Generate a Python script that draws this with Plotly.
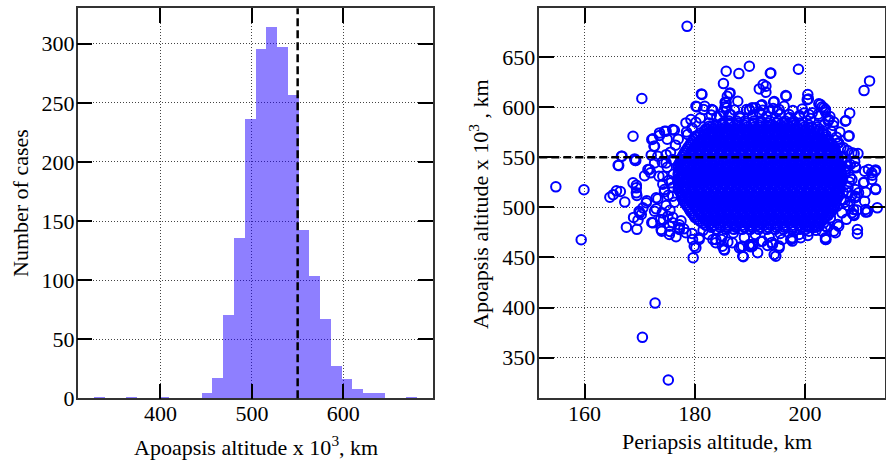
import plotly.graph_objects as go

# ---------------- Histogram data (apoapsis altitude x 10^3 km) ----------------
bin_centers = [332.9, 344.7, 356.4, 368.2, 380.0, 391.8, 403.5, 415.3, 427.1, 438.9,
               450.6, 462.4, 474.2, 486.0, 497.7, 509.5, 521.3, 533.1, 544.8, 556.6,
               568.4, 580.2, 591.9, 603.7, 615.5, 627.3, 639.0, 650.8, 662.6, 674.4]
bin_counts = [1, 0, 0, 1, 0, 0, 1, 0, 0, 0,
              4, 17, 70, 135, 236, 295, 314, 297, 256, 142,
              103, 67, 27, 16, 8, 4, 4, 0, 0, 1]
BIN_WIDTH = 11.77
apo_limit = 550

# ---------------- Scatter data: (periapsis km, apoapsis x10^3 km) ----------------
fringe_points = [
    (178.6, 680.5), (154.8, 520.4), (159.9, 517.5), (159.4, 467.6), (170.4, 608.5),
    (172.8, 404.5), (170.5, 370.3), (175.2, 327.7),
    (168.8, 570.9), (166.8, 551.0), (166.1, 542.0), (169.3, 546.7), (170.9, 531.5),
    (164.6, 510.0), (165.2, 512.6), (165.8, 516.4), (166.5, 515.8), (167.3, 505.2),
    (168.8, 524.4), (169.4, 522.0), (169.4, 519.4), (169.4, 514.4), (169.5, 511.8),
    (167.6, 480.2), (169.5, 478.0), (168.9, 489.9), (170.0, 494.5), (170.6, 499.5),
    (169.9, 496.1), (170.3, 492.8), (169.7, 487.1), (171.3, 506.5), (172.2, 484.9),
    (173.0, 498.5), (172.2, 567.6), (172.6, 561.0), (172.1, 552.0), (173.6, 571.6),
    (174.5, 575.9), (176.3, 576.9), (174.1, 545.0), (173.5, 531.0), (172.0, 534.4),
    (171.8, 537.7), (173.8, 487.9), (174.0, 476.2), (175.4, 481.2), (176.6, 470.6),
    (174.3, 487.5), (173.3, 508.5), (174.8, 501.8), (174.1, 494.5), (175.5, 475.9),
    (177.2, 479.6), (172.4, 568.3), (175.0, 568.0), (172.7, 560.9), (173.6, 574.2),
    (174.8, 575.9), (176.0, 577.5), (171.5, 537.7), (172.7, 544.3), (173.3, 550.9),
    (171.2, 504.5), (173.0, 509.5), (172.7, 496.1), (172.4, 484.5), (173.9, 477.9),
    (175.4, 472.9), (169.2, 546.7), (166.2, 541.6), (166.7, 550.9), (169.1, 548.3),
    (174.8, 544.3), (176.0, 547.6), (174.2, 531.0), (175.7, 524.4), (174.5, 517.7),
    (176.0, 511.1), (175.1, 491.1), (176.0, 484.5), (177.2, 477.9), (178.4, 474.6),
    (178.4, 584.2), (179.3, 587.5), (180.4, 600.2), (181.3, 612.5), (181.8, 600.8),
    (183.3, 596.8), (185.2, 623.4), (185.7, 635.7), (186.3, 613.5), (185.9, 610.7),
    (185.7, 604.2), (185.5, 600.2), (187.8, 605.8), (188.0, 633.4), (189.9, 640.7),
    (189.4, 597.5), (190.4, 599.2), (191.7, 618.1), (192.4, 622.4), (192.9, 614.8),
    (193.7, 633.7), (192.2, 602.2), (194.4, 605.5), (196.6, 610.8), (198.8, 637.7),
    (200.5, 612.5), (200.6, 608.1), (202.5, 603.2), (203.1, 600.2), (203.7, 594.9),
    (201.3, 594.2), (181.2, 613.1), (181.6, 597.5), (183.1, 597.5), (178.7, 572.6),
    (180.2, 570.9), (181.7, 572.6), (182.6, 580.8), (180.2, 584.8), (182.6, 584.2),
    (182.0, 578.2), (180.2, 600.8), (185.5, 604.8), (185.8, 599.2), (189.9, 596.8),
    (191.0, 599.2), (192.0, 601.5), (192.3, 596.8), (192.9, 620.7), (196.5, 611.4),
    (196.2, 600.8), (195.0, 595.8), (200.4, 607.4), (202.8, 602.5), (203.7, 597.5),
    (199.8, 594.1), (193.8, 634.0), (194.3, 604.8), (203.4, 599.2), (186.4, 614.1),
    (184.0, 590.0), (186.5, 592.5), (188.2, 589.0), (190.5, 592.0), (193.0, 590.5),
    (195.5, 593.0), (197.2, 589.5), (199.0, 591.5), (201.0, 588.5), (185.2, 595.0),
    (191.8, 594.5), (197.8, 596.5), (187.2, 597.0), (194.2, 598.5), (199.5, 598.0),
    (204.5, 590.5), (205.2, 585.0), (183.0, 592.0), (181.0, 589.0), (202.4, 592.8),
    (184.5, 590.8), (186.3, 592.5), (188.1, 590.8), (189.9, 597.5), (191.7, 594.2),
    (193.5, 595.8), (195.3, 597.5), (197.1, 592.5), (198.9, 590.8), (200.7, 592.5),
    (202.5, 590.8), (204.3, 587.5),
    (210.7, 616.4), (211.7, 626.1), (208.1, 593.9), (207.4, 586.5), (208.0, 571.3),
    (205.1, 581.6), (205.9, 563.6), (206.5, 559.3), (207.7, 556.6), (208.9, 553.6),
    (209.6, 553.6), (207.7, 541.0), (209.2, 539.4), (210.8, 536.0), (212.7, 536.0),
    (212.2, 532.0), (212.8, 518.4), (213.1, 499.5), (210.7, 525.1), (211.0, 515.1),
    (210.8, 506.1), (211.3, 495.5), (209.1, 511.1), (209.4, 497.2), (208.9, 491.9),
    (209.5, 477.9), (209.5, 473.6), (206.7, 494.5), (205.9, 482.9), (205.2, 476.2),
    (203.7, 469.6), (203.8, 467.9), (207.3, 585.8), (207.9, 570.9), (206.1, 564.3),
    (207.0, 559.3), (208.5, 554.3), (211.0, 495.2), (208.8, 492.9), (209.1, 509.5),
    (209.7, 514.5), (210.6, 524.5), (212.1, 534.5), (212.8, 537.3), (209.1, 540.4),
    (204.0, 480.2), (203.1, 476.2), (207.8, 501.8), (208.8, 497.8), (208.5, 494.5),
    (211.0, 497.8), (212.1, 527.7), (212.8, 517.7), (211.5, 537.7), (203.7, 481.2),
    (205.5, 474.6), (206.1, 481.2),
    (207.5, 545.0), (208.2, 530.0), (207.8, 520.0), (208.5, 512.0), (207.2, 505.0),
    (206.8, 550.0), (208.0, 525.5), (207.3, 535.5), (209.0, 545.5), (206.9, 515.0),
    (207.5, 488.0), (206.3, 575.0), (205.7, 570.0), (204.8, 575.5), (204.2, 586.0),
    (203.5, 582.0),
    (206.7, 545.9), (208.2, 542.6), (207.3, 537.7), (206.4, 529.3), (208.5, 527.7),
    (209.1, 517.7), (207.9, 514.4), (207.0, 507.7), (208.2, 506.1), (205.8, 501.1),
    (204.6, 489.5), (203.4, 484.5), (202.5, 481.2), (201.3, 479.6), (200.1, 477.9),
    (197.7, 468.6), (194.7, 451.3), (195.3, 461.3), (191.4, 454.7), (189.9, 461.3),
    (190.5, 461.3), (188.8, 450.7), (188.4, 460.6), (185.4, 457.3), (184.8, 467.9),
    (183.3, 467.9), (180.8, 467.9), (180.2, 459.6), (179.7, 449.7), (179.6, 467.9),
    (193.2, 461.9), (180.8, 469.6), (179.9, 461.2), (183.8, 464.6), (185.3, 457.9),
    (188.1, 459.6), (189.9, 462.9), (188.7, 451.3), (194.4, 452.9), (197.4, 467.9),
    (198.9, 472.9), (203.7, 467.9), (190.2, 460.6), (195.3, 459.6), (197.7, 466.3),
    (199.2, 469.6), (200.7, 476.2),
    (183.8, 467.9), (185.0, 461.2), (186.8, 464.6), (188.7, 461.2), (190.5, 462.9),
    (192.3, 466.2), (194.1, 462.9), (195.9, 467.9), (197.7, 469.6),
    (182.5, 473.0), (185.0, 471.5), (187.0, 474.5), (189.0, 470.0), (191.0, 473.0),
    (193.5, 470.5), (195.5, 474.0), (198.0, 476.0), (200.5, 472.0), (202.0, 477.0),
    (186.0, 465.5), (192.0, 466.0), (194.0, 465.0), (181.5, 477.0), (179.5, 474.0),
    (178.0, 478.5),
    (176.0, 490.0), (175.5, 497.0), (176.3, 505.0), (175.2, 512.0), (176.0, 520.0),
    (175.3, 527.0), (176.1, 533.0), (175.0, 540.0), (176.2, 547.0), (175.6, 555.0),
    (176.5, 562.0), (177.0, 568.0), (174.5, 515.5), (174.2, 523.0), (174.8, 552.5),
    (177.5, 486.5), (178.5, 575.0), (179.5, 579.0), (177.2, 482.5),
]

# dense core: apoapsis rows and the periapsis values read along each row
core_apo_rows = [586, 584, 582, 580, 578, 576, 574, 572, 570, 568, 566, 564, 562, 560,
                 558, 556, 554, 552, 550, 548, 546, 544, 542, 540, 538, 536, 534, 532,
                 530, 528, 526, 524, 522, 520, 518, 516, 514, 512, 510, 508, 506, 504,
                 502, 500, 498, 496, 494, 492, 490, 488, 486, 484, 482, 480, 478]
core_peri_rows = [
    [186.2, 187.6, 189.1, 190.7, 192.0, 193.6, 195.1, 196.4, 197.9],
    [185.0, 186.4, 187.8, 189.2, 190.6, 192.0, 193.4, 194.8, 196.2, 197.6, 199.0],
    [183.8, 185.1, 186.3, 187.7, 189.0, 190.2, 191.6, 192.9, 194.1, 195.5, 196.8, 198.0, 199.4, 200.7],
    [183.0, 184.3, 185.6, 186.9, 188.2, 189.5, 190.8, 192.1, 193.4, 194.7, 196.0, 197.3, 198.6, 199.9, 201.2, 202.2],
    [182.3, 183.5, 184.9, 186.1, 187.5, 188.7, 190.0, 191.3, 192.5, 193.9, 195.2, 196.4, 197.8, 199.0, 200.3, 201.6, 202.6],
    [181.7, 182.9, 184.2, 185.5, 186.8, 188.1, 189.4, 190.7, 192.0, 193.3, 194.6, 195.9, 197.2, 198.5, 199.8, 201.1, 202.4, 203.3],
    [181.0, 182.4, 183.6, 185.0, 186.2, 187.6, 188.8, 190.1, 191.4, 192.7, 194.0, 195.3, 196.6, 197.9, 199.2, 200.5, 201.8, 203.2],
    [180.6, 181.8, 183.1, 184.4, 185.7, 187.0, 188.3, 189.6, 190.9, 192.2, 193.5, 194.8, 196.1, 197.4, 198.7, 200.0, 201.3, 202.6, 203.8],
    [180.2, 181.5, 182.8, 184.1, 185.4, 186.7, 188.0, 189.3, 190.6, 191.9, 193.2, 194.5, 195.8, 197.1, 198.4, 199.7, 201.0, 202.3, 203.7],
    [179.9, 181.2, 182.5, 183.8, 185.1, 186.4, 187.7, 189.0, 190.3, 191.6, 192.9, 194.2, 195.5, 196.8, 198.1, 199.4, 200.7, 202.0, 203.3, 204.2],
    [179.6, 180.9, 182.2, 183.5, 184.8, 186.1, 187.4, 188.7, 190.0, 191.3, 192.6, 193.9, 195.2, 196.5, 197.8, 199.1, 200.4, 201.7, 203.0, 204.3],
    [179.3, 180.7, 182.0, 183.3, 184.6, 185.9, 187.2, 188.5, 189.8, 191.1, 192.4, 193.7, 195.0, 196.3, 197.6, 198.9, 200.2, 201.5, 202.8, 204.1, 204.8],
    [179.1, 180.4, 181.6, 182.9, 184.2, 185.5, 186.8, 188.1, 189.4, 190.7, 192.0, 193.3, 194.6, 195.9, 197.2, 198.5, 199.8, 201.1, 202.4, 203.7, 204.9],
    [178.8, 180.0, 181.3, 182.6, 183.9, 185.2, 186.5, 187.8, 189.1, 190.4, 191.7, 193.0, 194.3, 195.6, 196.9, 198.2, 199.5, 200.8, 202.1, 203.4, 204.6, 205.3],
    [178.6, 179.8, 181.1, 182.4, 183.6, 184.9, 186.2, 187.5, 188.8, 190.1, 191.4, 192.7, 194.0, 195.3, 196.6, 197.9, 199.2, 200.5, 201.8, 203.1, 204.3, 205.4],
    [178.3, 179.5, 180.8, 182.1, 183.4, 184.7, 186.0, 187.3, 188.6, 189.9, 191.2, 192.5, 193.8, 195.1, 196.4, 197.7, 199.0, 200.3, 201.6, 202.9, 204.2, 205.5],
    [178.1, 179.3, 180.6, 181.9, 183.2, 184.5, 185.8, 187.1, 188.4, 189.7, 191.0, 192.3, 193.6, 194.9, 196.2, 197.5, 198.8, 200.1, 201.4, 202.7, 204.0, 205.3],
    [177.9, 179.6, 180.9, 182.2, 183.5, 184.8, 186.1, 187.4, 188.7, 190.0, 191.3, 192.6, 193.9, 195.2, 196.5, 197.8, 199.1, 200.4, 201.7, 203.0, 204.3, 205.6],
    [177.7, 178.9, 180.2, 181.5, 182.8, 184.1, 185.4, 186.7, 188.0, 189.3, 190.6, 191.9, 193.2, 194.5, 195.8, 197.1, 198.4, 199.7, 201.0, 202.3, 203.6, 204.9, 206.0],
    [177.5, 178.2, 179.5, 180.8, 182.1, 183.4, 184.7, 186.0, 187.3, 188.6, 189.9, 191.2, 192.5, 193.8, 195.1, 196.4, 197.7, 199.0, 200.3, 201.6, 202.9, 204.2, 205.5, 206.0],
    [177.4, 178.5, 179.6, 180.9, 182.2, 183.5, 184.8, 186.1, 187.4, 188.7, 190.0, 191.3, 192.6, 193.9, 195.2, 196.5, 197.8, 199.1, 200.4, 201.7, 203.0, 204.3, 205.6],
    [177.2, 178.9, 180.2, 181.5, 182.8, 184.1, 185.4, 186.7, 188.0, 189.3, 190.6, 191.9, 193.2, 194.5, 195.8, 197.1, 198.4, 199.7, 201.0, 202.3, 203.6, 204.9, 206.1],
    [177.0, 178.2, 179.5, 180.8, 182.1, 183.4, 184.7, 186.0, 187.3, 188.6, 189.9, 191.2, 192.5, 193.8, 195.1, 196.4, 197.7, 199.0, 200.3, 201.6, 202.9, 204.2, 205.5, 206.3],
    [177.0, 178.6, 179.9, 181.2, 182.5, 183.8, 185.1, 186.4, 187.7, 189.0, 190.3, 191.6, 192.9, 194.2, 195.5, 196.8, 198.1, 199.4, 200.7, 202.0, 203.3, 204.6, 205.8, 206.4],
    [177.2, 178.0, 179.1, 180.3, 181.6, 182.9, 184.2, 185.5, 186.8, 188.1, 189.4, 190.7, 192.0, 193.3, 194.6, 195.9, 197.2, 198.5, 199.8, 201.1, 202.4, 203.7, 205.0, 206.4],
    [177.1, 178.7, 180.0, 181.3, 182.6, 183.9, 185.2, 186.5, 187.8, 189.1, 190.4, 191.7, 193.0, 194.3, 195.6, 196.9, 198.2, 199.5, 200.8, 202.1, 203.4, 204.7, 205.9, 206.5],
    [177.0, 178.3, 179.6, 180.9, 182.2, 183.5, 184.8, 186.1, 187.4, 188.7, 190.0, 191.3, 192.6, 193.9, 195.2, 196.5, 197.8, 199.1, 200.4, 201.7, 203.0, 204.3, 205.6, 206.6],
    [177.0, 178.6, 179.9, 181.2, 182.5, 183.8, 185.1, 186.4, 187.7, 189.0, 190.3, 191.6, 192.9, 194.2, 195.5, 196.8, 198.1, 199.4, 200.7, 202.0, 203.3, 204.6, 205.9, 206.6],
    [177.3, 178.0, 179.2, 180.4, 181.7, 183.0, 184.3, 185.6, 186.9, 188.2, 189.5, 190.8, 192.1, 193.4, 194.7, 196.0, 197.3, 198.6, 199.9, 201.2, 202.5, 203.8, 205.1, 206.4],
    [177.1, 178.7, 180.0, 181.3, 182.6, 183.9, 185.2, 186.5, 187.8, 189.1, 190.4, 191.7, 193.0, 194.3, 195.6, 196.9, 198.2, 199.5, 200.8, 202.1, 203.4, 204.7, 206.0, 206.6],
    [176.9, 178.2, 179.5, 180.8, 182.1, 183.4, 184.7, 186.0, 187.3, 188.6, 189.9, 191.2, 192.5, 193.8, 195.1, 196.4, 197.7, 199.0, 200.3, 201.6, 202.9, 204.2, 205.5, 206.6],
    [177.0, 178.6, 179.9, 181.2, 182.5, 183.8, 185.1, 186.4, 187.7, 189.0, 190.3, 191.6, 192.9, 194.2, 195.5, 196.8, 198.1, 199.4, 200.7, 202.0, 203.3, 204.6, 205.9, 206.5],
    [177.2, 177.9, 179.1, 180.3, 181.6, 182.9, 184.2, 185.5, 186.8, 188.1, 189.4, 190.7, 192.0, 193.3, 194.6, 195.9, 197.2, 198.5, 199.8, 201.1, 202.4, 203.7, 205.0, 206.3],
    [177.1, 178.7, 180.0, 181.3, 182.6, 183.9, 185.2, 186.5, 187.8, 189.1, 190.4, 191.7, 193.0, 194.3, 195.6, 196.9, 198.2, 199.5, 200.8, 202.1, 203.4, 204.7, 205.9, 206.3],
    [177.0, 178.3, 179.6, 180.9, 182.2, 183.5, 184.8, 186.1, 187.4, 188.7, 190.0, 191.3, 192.6, 193.9, 195.2, 196.5, 197.8, 199.1, 200.4, 201.7, 203.0, 204.3, 205.6, 206.1],
    [177.2, 178.1, 179.4, 180.7, 182.0, 183.3, 184.6, 185.9, 187.2, 188.5, 189.8, 191.1, 192.4, 193.7, 195.0, 196.3, 197.6, 198.9, 200.2, 201.5, 202.8, 204.1, 205.4, 206.0],
    [177.5, 178.7, 180.0, 181.3, 182.6, 183.9, 185.2, 186.5, 187.8, 189.1, 190.4, 191.7, 193.0, 194.3, 195.6, 196.9, 198.2, 199.5, 200.8, 202.1, 203.4, 204.7, 205.9],
    [177.6, 179.0, 180.3, 181.6, 182.9, 184.2, 185.5, 186.8, 188.1, 189.4, 190.7, 192.0, 193.3, 194.6, 195.9, 197.2, 198.5, 199.8, 201.1, 202.4, 203.7, 205.0, 205.9],
    [177.6, 178.3, 179.4, 180.6, 181.9, 183.2, 184.5, 185.8, 187.1, 188.4, 189.7, 191.0, 192.3, 193.6, 194.9, 196.2, 197.5, 198.8, 200.1, 201.4, 202.7, 204.0, 205.3, 206.0],
    [177.8, 178.8, 180.0, 181.3, 182.6, 183.9, 185.2, 186.5, 187.8, 189.1, 190.4, 191.7, 193.0, 194.3, 195.6, 196.9, 198.2, 199.5, 200.8, 202.1, 203.4, 204.7, 205.7],
    [178.0, 179.1, 180.3, 181.6, 182.9, 184.2, 185.5, 186.8, 188.1, 189.4, 190.7, 192.0, 193.3, 194.6, 195.9, 197.2, 198.5, 199.8, 201.1, 202.4, 203.7, 205.0, 205.6],
    [178.2, 179.4, 180.7, 182.0, 183.3, 184.6, 185.9, 187.2, 188.5, 189.8, 191.1, 192.4, 193.7, 195.0, 196.3, 197.6, 198.9, 200.2, 201.5, 202.8, 204.1, 205.5],
    [178.5, 179.7, 181.0, 182.3, 183.6, 184.9, 186.2, 187.5, 188.8, 190.1, 191.4, 192.7, 194.0, 195.3, 196.6, 197.9, 199.2, 200.5, 201.8, 203.1, 204.4, 205.4],
    [178.8, 180.0, 181.3, 182.6, 183.9, 185.2, 186.5, 187.8, 189.1, 190.4, 191.7, 193.0, 194.3, 195.6, 196.9, 198.2, 199.5, 200.8, 202.1, 203.4, 204.7, 205.2],
    [179.0, 180.3, 181.6, 182.9, 184.2, 185.5, 186.8, 188.1, 189.4, 190.7, 192.0, 193.3, 194.6, 195.9, 197.2, 198.5, 199.8, 201.1, 202.4, 203.7, 205.0],
    [179.2, 180.6, 181.9, 183.2, 184.5, 185.8, 187.1, 188.4, 189.7, 191.0, 192.3, 193.6, 194.9, 196.2, 197.5, 198.8, 200.1, 201.4, 202.7, 204.0, 204.8],
    [179.5, 180.9, 182.2, 183.5, 184.8, 186.1, 187.4, 188.7, 190.0, 191.3, 192.6, 193.9, 195.2, 196.5, 197.8, 199.1, 200.4, 201.7, 203.0, 204.4],
    [179.8, 181.1, 182.4, 183.7, 185.0, 186.3, 187.6, 188.9, 190.2, 191.5, 192.8, 194.1, 195.4, 196.7, 198.0, 199.3, 200.6, 201.9, 203.2, 204.2],
    [180.0, 181.4, 182.7, 184.0, 185.3, 186.6, 187.9, 189.2, 190.5, 191.8, 193.1, 194.4, 195.7, 197.0, 198.3, 199.6, 200.9, 202.2, 203.6],
    [180.5, 181.8, 183.1, 184.4, 185.7, 187.0, 188.3, 189.6, 190.9, 192.2, 193.5, 194.8, 196.1, 197.4, 198.7, 200.0, 201.3, 202.6, 203.4],
    [181.0, 182.3, 183.6, 184.9, 186.2, 187.5, 188.8, 190.1, 191.4, 192.7, 194.0, 195.3, 196.6, 197.9, 199.2, 200.5, 201.8, 203.0],
    [181.5, 182.9, 184.2, 185.5, 186.8, 188.1, 189.4, 190.7, 192.0, 193.3, 194.6, 195.9, 197.2, 198.5, 199.8, 201.1, 202.4],
    [182.0, 183.4, 184.7, 186.0, 187.3, 188.6, 189.9, 191.2, 192.5, 193.8, 195.1, 196.4, 197.7, 199.0, 200.3, 201.6],
    [183.0, 184.6, 186.0, 187.5, 189.0, 190.4, 191.8, 193.3, 194.8, 196.3, 197.8, 199.3, 200.7, 201.8],
    [184.0, 185.6, 187.1, 188.6, 190.1, 191.6, 193.1, 194.6, 196.1, 197.6, 199.1],
]

peri = [p for p, a in fringe_points]
apo = [a for p, a in fringe_points]
for a_row, p_row in zip(core_apo_rows, core_peri_rows):
    peri.extend(p_row)
    apo.extend([a_row] * len(p_row))

# ---------------- Figure ----------------
FONT = "Liberation Serif"
fig = go.Figure()

fig.add_trace(go.Bar(
    x=bin_centers, y=bin_counts, width=BIN_WIDTH,
    marker=dict(color="rgba(30,0,255,0.5)", line=dict(width=0)),
    xaxis="x", yaxis="y", showlegend=False, hoverinfo="skip",
))

fig.add_trace(go.Scatter(
    x=peri, y=apo, mode="markers",
    marker=dict(symbol="circle-open", size=9.5, color="#0000ff",
                line=dict(width=2, color="#0000ff")),
    xaxis="x2", yaxis="y2", showlegend=False, hoverinfo="skip",
))

axis_common = dict(
    showline=True, linecolor="#333333", linewidth=1.5, mirror="ticks",
    ticks="inside", ticklen=15, tickwidth=2, tickcolor="black",
    showgrid=True, gridcolor="#444444", griddash="1px,2px", gridwidth=1,
    zeroline=False, tickfont=dict(family=FONT, size=22, color="black"),
    layer="above traces", automargin=False,
)

Y_DOM = [1 - 398.3 / 466, 1 - 8.3 / 466]

fig.update_layout(
    width=886, height=466,
    margin=dict(l=0, r=0, t=0, b=0),
    paper_bgcolor="white", plot_bgcolor="white",
    bargap=0,
    xaxis=dict(domain=[77.7 / 886, 433 / 886], range=[309.5, 698],
               tickvals=[400, 500, 600], anchor="y", ticklabelstandoff=-5, **axis_common),
    yaxis=dict(domain=Y_DOM, range=[0, 330], tickvals=[0, 50, 100, 150, 200, 250, 300],
               anchor="x", ticklabelstandoff=-3, **axis_common),
    xaxis2=dict(domain=[539.3 / 886, 885 / 886], range=[151.8, 214.5],
                tickvals=[160, 180, 200], anchor="y2", ticklabelstandoff=-5, **axis_common),
    yaxis2=dict(domain=Y_DOM, range=[309.5, 698.5],
                tickvals=[350, 400, 450, 500, 550, 600, 650],
                anchor="x2", ticklabelstandoff=-2, **axis_common),
    shapes=[
        dict(type="line", xref="x", yref="y domain", x0=apo_limit, x1=apo_limit, y0=0, y1=1,
             line=dict(color="black", width=2.5, dash="8px,4px"), layer="above"),
        dict(type="line", xref="x2 domain", yref="y2", x0=0, x1=1, y0=apo_limit, y1=apo_limit,
             line=dict(color="black", width=2.5, dash="8px,4px"), layer="above"),
    ],
    annotations=[
        dict(text="Apoapsis altitude x 10<sup>3</sup>, km", xref="paper", yref="paper",
             x=256 / 886, y=1 - 446 / 466, showarrow=False, xanchor="center", yanchor="middle",
             font=dict(family=FONT, size=22, color="black")),
        dict(text="Number of cases", xref="paper", yref="paper",
             x=20 / 886, y=1 - 203 / 466, showarrow=False, textangle=-90,
             xanchor="center", yanchor="middle",
             font=dict(family=FONT, size=22, color="black")),
        dict(text="Periapsis altitude, km", xref="paper", yref="paper",
             x=717 / 886, y=1 - 441 / 466, showarrow=False, xanchor="center", yanchor="middle",
             font=dict(family=FONT, size=22, color="black")),
        dict(text="Apoapsis altitude x 10<sup>3</sup> , km", xref="paper", yref="paper",
             x=479 / 886, y=1 - 204 / 466, showarrow=False, textangle=-90,
             xanchor="center", yanchor="middle",
             font=dict(family=FONT, size=22, color="black")),
    ],
)

fig.write_html("out.html", config={"displayModeBar": False},
               post_script="document.body.style.margin='0px';document.body.style.overflow='hidden';")
